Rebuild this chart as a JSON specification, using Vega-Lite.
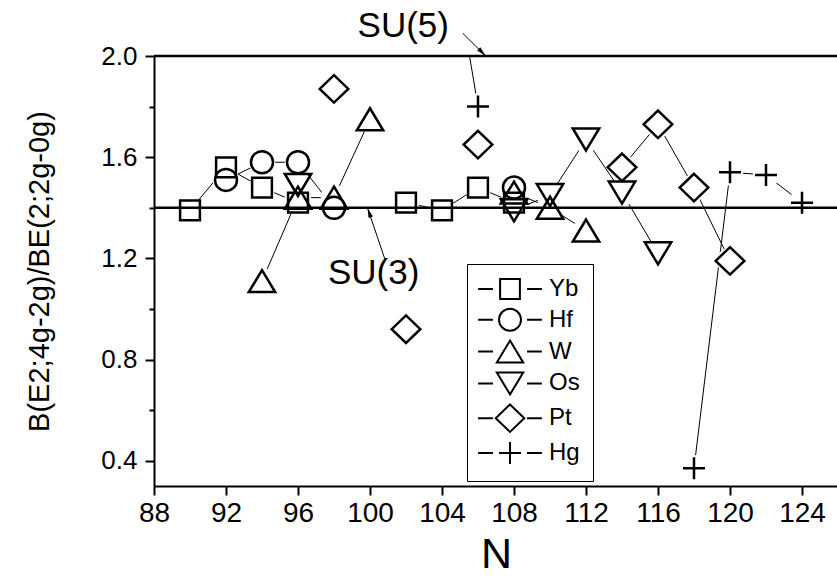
{
  "$schema": "https://vega.github.io/schema/vega-lite/v6.json",
  "width": 684,
  "height": 430,
  "autosize": {"type": "none"},
  "padding": {"left": 154, "top": 56, "right": 0, "bottom": 92},
  "background": "white",
  "config": {
    "view": {"stroke": null},
    "font": "Liberation Sans",
    "axis": {
      "domainColor": "black",
      "domainWidth": 2,
      "tickColor": "black",
      "tickWidth": 2,
      "labelColor": "black",
      "labelFont": "Liberation Sans",
      "titleColor": "black",
      "titleFont": "Liberation Sans",
      "titleFontWeight": "normal",
      "grid": false,
      "labelFlush": false,
      "labelOverlap": false,
      "zindex": 1
    }
  },
  "datasets": {
    "series": [
      {"N": 90, "v": 1.39, "el": "Yb", "seg": "Yb-a"},
      {"N": 92, "v": 1.56, "el": "Yb", "seg": "Yb-a"},
      {"N": 94, "v": 1.48, "el": "Yb", "seg": "Yb-a"},
      {"N": 96, "v": 1.42, "el": "Yb", "seg": "Yb-a"},
      {"N": 102, "v": 1.42, "el": "Yb", "seg": "Yb-b"},
      {"N": 104, "v": 1.39, "el": "Yb", "seg": "Yb-b"},
      {"N": 106, "v": 1.48, "el": "Yb", "seg": "Yb-b"},
      {"N": 108, "v": 1.42, "el": "Yb", "seg": "Yb-b"},
      {"N": 92, "v": 1.51, "el": "Hf", "seg": "Hf-a"},
      {"N": 94, "v": 1.58, "el": "Hf", "seg": "Hf-a"},
      {"N": 96, "v": 1.58, "el": "Hf", "seg": "Hf-a"},
      {"N": 98, "v": 1.40, "el": "Hf", "seg": "Hf-a"},
      {"N": 108, "v": 1.48, "el": "Hf", "seg": "Hf-b"},
      {"N": 94, "v": 1.11, "el": "W", "seg": "W-a"},
      {"N": 96, "v": 1.44, "el": "W", "seg": "W-a"},
      {"N": 98, "v": 1.44, "el": "W", "seg": "W-a"},
      {"N": 100, "v": 1.75, "el": "W", "seg": "W-a"},
      {"N": 108, "v": 1.46, "el": "W", "seg": "W-b"},
      {"N": 110, "v": 1.40, "el": "W", "seg": "W-b"},
      {"N": 112, "v": 1.31, "el": "W", "seg": "W-b"},
      {"N": 96, "v": 1.49, "el": "Os", "seg": "Os-a"},
      {"N": 108, "v": 1.39, "el": "Os", "seg": "Os-b"},
      {"N": 110, "v": 1.45, "el": "Os", "seg": "Os-b"},
      {"N": 112, "v": 1.67, "el": "Os", "seg": "Os-b"},
      {"N": 114, "v": 1.46, "el": "Os", "seg": "Os-b"},
      {"N": 116, "v": 1.22, "el": "Os", "seg": "Os-b"},
      {"N": 98, "v": 1.87, "el": "Pt", "seg": "Pt-a"},
      {"N": 102, "v": 0.92, "el": "Pt", "seg": "Pt-b"},
      {"N": 106, "v": 1.65, "el": "Pt", "seg": "Pt-c"},
      {"N": 114, "v": 1.56, "el": "Pt", "seg": "Pt-d"},
      {"N": 116, "v": 1.73, "el": "Pt", "seg": "Pt-d"},
      {"N": 118, "v": 1.48, "el": "Pt", "seg": "Pt-d"},
      {"N": 120, "v": 1.19, "el": "Pt", "seg": "Pt-d"},
      {"N": 104, "v": 2.65, "el": "Hg", "seg": "Hg-a"},
      {"N": 106, "v": 1.80, "el": "Hg", "seg": "Hg-a"},
      {"N": 118, "v": 0.37, "el": "Hg", "seg": "Hg-b"},
      {"N": 120, "v": 1.54, "el": "Hg", "seg": "Hg-b"},
      {"N": 122, "v": 1.53, "el": "Hg", "seg": "Hg-b"},
      {"N": 124, "v": 1.42, "el": "Hg", "seg": "Hg-b"}
    ],
    "limits": [
      {"v": 2.0, "name": "SU(5)"},
      {"v": 1.4, "name": "SU(3)"}
    ],
    "notes": [
      {"name": "SU(5)", "N": 101.85, "v": 2.074},
      {"name": "SU(3)", "N": 100.2, "v": 1.10}
    ],
    "pointers": [
      {"name": "SU(5)", "N": 105.15, "v": 2.09, "N2": 106.43, "v2": 2.0},
      {"name": "SU(3)", "N": 100.82, "v": 1.198, "N2": 99.86, "v2": 1.40}
    ]
  },
  "resolve": {"scale": {"shape": "independent"}, "legend": {"shape": "independent"}},
  "layer": [
    {
      "data": {"name": "series"},
      "mark": {"type": "line", "color": "black", "strokeWidth": 1, "clip": true},
      "encoding": {
        "x": {
          "field": "N",
          "type": "quantitative",
          "scale": {"domain": [88, 126], "nice": false, "zero": false},
          "axis": {
            "title": "N",
            "titleFontSize": 43,
            "titlePadding": 6,
            "values": [88, 90, 92, 94, 96, 98, 100, 102, 104, 106, 108, 110, 112, 114, 116, 118, 120, 122, 124, 126],
            "labelExpr": "datum.value % 4 === 0 ? datum.label : ''",
            "tickSize": {"condition": {"test": "datum.value % 4 === 0", "value": 9}, "value": 5},
            "labelFontSize": 28,
            "labelPadding": 4
          }
        },
        "y": {
          "field": "v",
          "type": "quantitative",
          "scale": {"domain": [0.3, 2.0], "nice": false, "zero": false},
          "axis": {
            "title": "B(E2;4g-2g)/BE(2;2g-0g)",
            "titleFontSize": 29,
            "titlePadding": 46,
            "values": [0.4, 0.6, 0.8, 1.0, 1.2, 1.4, 1.6, 1.8, 2.0],
            "format": ".1f",
            "labelExpr": "round(datum.value * 10) % 4 === 0 ? datum.label : ''",
            "tickSize": {"condition": {"test": "round(datum.value * 10) % 4 === 0", "value": 9}, "value": 5},
            "labelFontSize": 26,
            "labelPadding": 8
          }
        },
        "detail": {"field": "seg"}
      }
    },
    {
      "data": {"name": "series"},
      "mark": {"type": "point", "shape": "circle", "size": 700, "filled": true, "fill": "white", "opacity": 1, "clip": true},
      "encoding": {
        "x": {"field": "N", "type": "quantitative"},
        "y": {"field": "v", "type": "quantitative"}
      }
    },
    {
      "data": {"name": "limits"},
      "mark": {"type": "rule", "color": "black", "strokeWidth": 2.5},
      "encoding": {
        "y": {"field": "v", "type": "quantitative"}
      }
    },
    {
      "data": {"name": "series"},
      "mark": {"type": "point", "filled": false, "stroke": "black", "strokeWidth": 2.5, "opacity": 1, "size": 484, "clip": true},
      "encoding": {
        "x": {"field": "N", "type": "quantitative"},
        "y": {"field": "v", "type": "quantitative"},
        "shape": {
          "field": "el",
          "type": "nominal",
          "scale": {
            "domain": ["Yb", "Hf", "W", "Os", "Pt", "Hg"],
            "range": [
              "M-0.9,-0.9H0.9V0.9H-0.9Z",
              "M1,0A1,1,0,1,1,-1,0A1,1,0,1,1,1,0Z",
              "M0,-1L1.2,1H-1.2Z",
              "M0,1L1.2,-1H-1.2Z",
              "M0,-1.25L1.3,0L0,1.25L-1.3,0Z",
              "M-1,0H1M0,-1V1"
            ]
          },
          "legend": null
        }
      }
    },
    {
      "data": {"name": "series"},
      "transform": [{"filter": "datum.N < 0"}],
      "mark": {"type": "point", "filled": false, "stroke": "black", "strokeWidth": 2, "opacity": 1, "size": 484},
      "encoding": {
        "x": {"field": "N", "type": "quantitative"},
        "y": {"field": "v", "type": "quantitative"},
        "shape": {
          "field": "el",
          "type": "nominal",
          "scale": {
            "domain": ["Yb", "Hf", "W", "Os", "Pt", "Hg"],
            "range": [
              "M-2.9,0H-1.55M1.55,0H2.9M-0.9,-0.9H0.9V0.9H-0.9Z",
              "M-2.9,0H-1.55M1.55,0H2.9M1,0A1,1,0,1,1,-1,0A1,1,0,1,1,1,0Z",
              "M-2.9,0H-1.55M1.55,0H2.9M0,-1L1.2,1H-1.2Z",
              "M-2.9,0H-1.55M1.55,0H2.9M0,1L1.2,-1H-1.2Z",
              "M-2.9,0H-1.55M1.55,0H2.9M0,-1.25L1.3,0L0,1.25L-1.3,0Z",
              "M-2.9,0H-1.55M1.55,0H2.9M-1,0H1M0,-1V1"
            ]
          },
          "legend": {
            "title": null,
            "orient": "none",
            "legendX": 313,
            "legendY": 208,
            "padding": 13,
            "strokeColor": "black",
            "fillColor": "white",
            "symbolSize": 484,
            "symbolOffset": 18,
            "symbolStrokeWidth": 2,
            "symbolStrokeColor": "black",
            "symbolFillColor": "transparent",
            "symbolOpacity": 1,
            "labelOffset": 27,
            "labelFont": "Liberation Sans",
            "labelFontSize": 24,
            "labelColor": "black",
            "rowPadding": 1.8
          }
        }
      }
    },
    {
      "data": {"name": "pointers"},
      "mark": {"type": "rule", "color": "black", "strokeWidth": 1},
      "encoding": {
        "x": {"field": "N", "type": "quantitative"},
        "y": {"field": "v", "type": "quantitative"},
        "x2": {"field": "N2"},
        "y2": {"field": "v2"}
      }
    },
    {
      "data": {"name": "pointers"},
      "mark": {"type": "point", "shape": "M0,0L0.45,2L-0.45,2Z", "size": 100, "filled": true, "color": "black", "opacity": 1},
      "encoding": {
        "x": {"field": "N2", "type": "quantitative"},
        "y": {"field": "v2", "type": "quantitative"},
        "angle": {"condition": {"test": "datum.name === 'SU(5)'", "value": 135}, "value": 341}
      }
    },
    {
      "data": {"name": "notes"},
      "mark": {"type": "text", "font": "Liberation Sans", "fontSize": 35, "color": "black", "align": "center", "baseline": "alphabetic"},
      "encoding": {
        "x": {"field": "N", "type": "quantitative"},
        "y": {"field": "v", "type": "quantitative"},
        "text": {"field": "name"}
      }
    }
  ]
}
